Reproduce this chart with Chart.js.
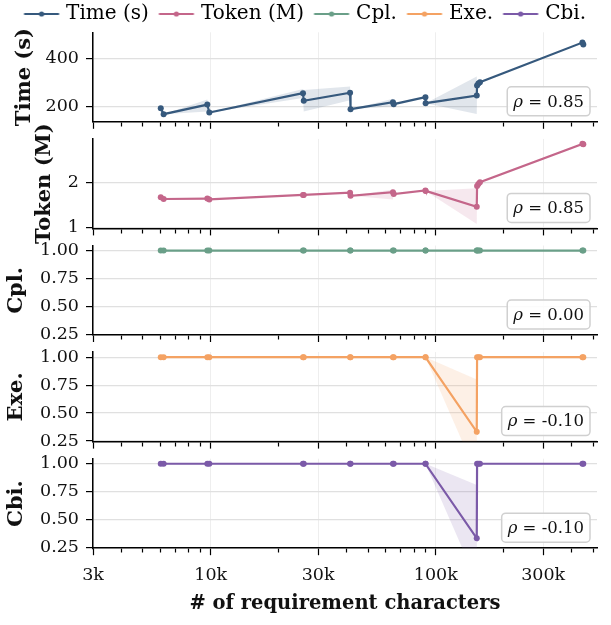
<!DOCTYPE html>
<html>
<head>
<meta charset="utf-8">
<script src="https://cdn.jsdelivr.net/npm/chart.js@4.4.1/dist/chart.umd.min.js"></script>
<style>
  html, body { margin: 0; padding: 0; background: #fff; }
  #figure { position: relative; width: 611px; height: 625px; overflow: hidden; }
  #figure canvas { position: absolute; left: 0; }
</style>
</head>
<body>
<div id="figure"></div>
<script>
// ---- data ----
const chars = [6000, 6180, 9660, 9860, 25700, 25900, 41600, 41800, 64500, 65000,
               89900, 90100, 152000, 152500, 154500, 157000, 448000, 452000];

const timeVals = [192, 167, 207, 174, 255, 223, 257, 188, 217, 209, 238, 213, 245, 287, 295, 301, 467, 459];
const timeLo   = [192, 167, 178, 174, 235, 178, 225, 188, 200, 209, 238, 213, 168, 287, 295, 301, 467, 459];
const timeHi   = [192, 167, 228, 174, 272, 268, 283, 188, 232, 209, 238, 213, 325, 287, 295, 301, 467, 459];

const tokenVals = [1.67, 1.63, 1.64, 1.62, 1.72, 1.72, 1.77, 1.70, 1.78, 1.74, 1.82, 1.81, 1.46, 1.92, 1.96, 2.00, 2.85, 2.84];
const tokenLo   = [1.67, 1.63, 1.64, 1.62, 1.72, 1.72, 1.77, 1.70, 1.62, 1.74, 1.82, 1.81, 1.08, 1.92, 1.96, 2.00, 2.85, 2.84];
const tokenHi   = [1.67, 1.63, 1.64, 1.62, 1.72, 1.72, 1.77, 1.70, 1.84, 1.74, 1.82, 1.81, 1.87, 1.92, 1.96, 2.00, 2.85, 2.84];

const cplVals = [1, 1, 1, 1, 1, 1, 1, 1, 1, 1, 1, 1, 1, 1, 1, 1, 1, 1];

const exeVals = [1, 1, 1, 1, 1, 1, 1, 1, 1, 1, 1, 1, 0.333, 1, 1, 1, 1, 1];
const exeLo   = [1, 1, 1, 1, 1, 1, 1, 1, 1, 1, 1, 1, -0.05, 1, 1, 1, 1, 1];
const exeHi   = [1, 1, 1, 1, 1, 1, 1, 1, 1, 1, 1, 1, 0.80, 1, 1, 1, 1, 1];

const cbiVals = [1, 1, 1, 1, 1, 1, 1, 1, 1, 1, 1, 1, 0.333, 1, 1, 1, 1, 1];
const cbiLo   = [1, 1, 1, 1, 1, 1, 1, 1, 1, 1, 1, 1, -0.05, 1, 1, 1, 1, 1];
const cbiHi   = [1, 1, 1, 1, 1, 1, 1, 1, 1, 1, 1, 1, 0.81, 1, 1, 1, 1, 1];

const rhoTexts = ['0.85', '0.85', '0.00', '-0.10', '-0.10'];

const timeTicks = [200, 400];
const tokenTicks = [1, 2];
const rateTicks = [0.25, 0.5, 0.75, 1.0];

const xTickValues = [3000, 4000, 5000, 6000, 7000, 8000, 9000,
                     10000, 20000, 30000, 40000, 50000, 60000, 70000, 80000, 90000,
                     100000, 200000, 300000, 400000, 500000];
const xLabelValues = [3000, 10000, 30000, 100000, 300000];
const xTickLabels = ['3k', '10k', '30k', '100k', '300k'];

// ---- layout ----
const FONT = '"DejaVu Serif", serif';
const AREA_LEFT = 93, AREA_RIGHT = 597;
const TOP0 = 32.3, PITCH = 106.6, PANEL_H = 89.5;
const TITLE_SIZE = 21, TICK_SIZE = 17.5, LEGEND_SIZE = 20;

const panels = [
  { label: 'Time (s)', color: '#36597d', band: 'rgba(54,89,125,0.15)', vals: timeVals, lo: timeLo, hi: timeHi,
    min: 135, max: 510, ticks: timeTicks, fmt: v => String(v), titleX: 25 },
  { label: 'Token (M)', color: '#c4668a', band: 'rgba(196,102,138,0.15)', vals: tokenVals, lo: tokenLo, hi: tokenHi,
    min: 0.98, max: 2.96, ticks: tokenTicks, fmt: v => String(v), titleX: 45 },
  { label: 'Cpl.', color: '#6a9f88', band: null, vals: cplVals,
    min: 0.245, max: 1.045, ticks: rateTicks, fmt: v => v.toFixed(2), titleX: 16.5 },
  { label: 'Exe.', color: '#f4a263', band: 'rgba(244,162,99,0.16)', vals: exeVals, lo: exeLo, hi: exeHi,
    min: 0.245, max: 1.045, ticks: rateTicks, fmt: v => v.toFixed(2), titleX: 16.5 },
  { label: 'Cbi.', color: '#7b5aa8', band: 'rgba(123,90,168,0.15)', vals: cbiVals, lo: cbiLo, hi: cbiHi,
    min: 0.245, max: 1.045, ticks: rateTicks, fmt: v => v.toFixed(2), titleX: 16.5 }
];

// legend spacing: keep all five entries on one row
const measure = document.createElement('canvas').getContext('2d');
measure.font = LEGEND_SIZE + 'px ' + FONT;
const legendTextSum = panels.reduce((s, q) => s + measure.measureText(q.label).width, 0);
const legendGap = Math.min(57, (572 - legendTextSum) / 5);
const LEGEND_BOX = legendGap - 5 - LEGEND_SIZE / 2;

// legend swatch: a 35px line with a dot, ending 7px before the text
function legendSwatch(color) {
  const relEnd = LEGEND_BOX / 2 + LEGEND_SIZE / 2 - 7;
  const relStart = relEnd - 35;
  const W = Math.ceil(2 * Math.max(Math.abs(relStart), Math.abs(relEnd)) + 4);
  const c = document.createElement('canvas');
  c.width = W; c.height = 10;
  const g = c.getContext('2d');
  const cx = W / 2;
  g.strokeStyle = color; g.lineWidth = 2;
  g.beginPath(); g.moveTo(cx + relStart, 5); g.lineTo(cx + relEnd, 5); g.stroke();
  g.fillStyle = color;
  g.beginPath(); g.arc(cx + (relStart + relEnd) / 2, 5, 2.6, 0, Math.PI * 2); g.fill();
  return c;
}

// rho annotation box in the lower right of each panel
const rhoBox = {
  id: 'rhoBox',
  afterDatasetsDraw(chart, args, opts) {
    if (!opts.text) return;
    const { ctx, chartArea } = chart;
    ctx.save();
    ctx.font = 'italic 16.5px ' + FONT;
    const wr = ctx.measureText('ρ').width;
    ctx.font = '16.5px ' + FONT;
    const rest = ' = ' + opts.text;
    const wt = ctx.measureText(rest).width;
    const w = wr + wt + 12, h = 29;
    const x = chartArea.right - 7 - w, y = chartArea.bottom - 6 - h;
    ctx.beginPath();
    ctx.roundRect(x, y, w, h, 4);
    ctx.fillStyle = 'rgba(255,255,255,0.85)';
    ctx.fill();
    ctx.lineWidth = 1.5;
    ctx.strokeStyle = '#d0d0d0';
    ctx.stroke();
    ctx.fillStyle = '#111';
    ctx.textBaseline = 'middle';
    ctx.font = 'italic 16.5px ' + FONT;
    ctx.fillText('ρ', x + 6, y + h / 2 + 1);
    ctx.font = '16.5px ' + FONT;
    ctx.fillText(rest, x + 6 + wr, y + h / 2 + 1);
    ctx.restore();
  }
};

const fig = document.getElementById('figure');
const isLabeled = v => xLabelValues.includes(v);

panels.forEach((p, i) => {
  const first = i === 0, last = i === panels.length - 1;
  const top = TOP0 + i * PITCH;
  const bottom = top + PANEL_H;
  const canvasTop = first ? 0 : Math.round(top - 22);
  const xH = last ? 65.8 : 8;
  const canvasH = last ? 625 - canvasTop : Math.ceil(bottom + xH + 14 - canvasTop);
  const padTop = first ? -1 : top - canvasTop;
  const padBottom = canvasH - (bottom - canvasTop) - xH;
  // the first chart keeps a narrow left padding so the legend row has room
  const padLeft = first ? 8 : p.titleX - TITLE_SIZE / 2;
  const titlePad = p.titleX - TITLE_SIZE / 2 - padLeft;

  const canvas = document.createElement('canvas');
  canvas.width = 611; canvas.height = canvasH;
  canvas.style.top = canvasTop + 'px';
  fig.appendChild(canvas);

  const datasets = [{
    data: chars.map((x, k) => ({ x, y: p.vals[k] })),
    borderColor: p.color, borderWidth: 2.2,
    pointRadius: 3, pointBackgroundColor: p.color, pointBorderWidth: 0,
    fill: false, tension: 0
  }];
  if (p.band) {
    datasets.push({
      data: chars.map((x, k) => ({ x, y: p.hi[k] })),
      borderColor: 'transparent', pointRadius: 0, fill: false
    });
    datasets.push({
      data: chars.map((x, k) => ({ x, y: p.lo[k] })),
      borderColor: 'transparent', pointRadius: 0, fill: '-1', backgroundColor: p.band
    });
  }

  new Chart(canvas, {
    type: 'line',
    data: { datasets },
    options: {
      responsive: false,
      animation: false,
      events: [],
      layout: { padding: { left: padLeft, right: 611 - AREA_RIGHT, top: padTop, bottom: padBottom } },
      scales: {
        x: {
          type: 'logarithmic', min: 3000, max: 520000,
          afterBuildTicks: s => { s.ticks = xTickValues.map(v => ({ value: v })); },
          afterFit: s => { s.height = xH; },
          border: { color: '#000', width: 1.5 },
          grid: {
            color: c => (c.tick && isLabeled(c.tick.value)) ? '#eeeeee' : 'rgba(0,0,0,0)',
            lineWidth: 1,
            tickLength: 7, tickColor: '#000', tickWidth: 1.2,
            tickBorderDash: c => (c.tick && isLabeled(c.tick.value)) ? [] : [4, 20]
          },
          ticks: {
            display: last, autoSkip: false, maxRotation: 0, padding: 10,
            font: { family: FONT, size: TICK_SIZE }, color: '#111',
            callback: v => { const k = xLabelValues.indexOf(v); return k >= 0 ? xTickLabels[k] : ''; }
          },
          title: {
            display: last, text: '# of requirement characters', color: '#111', padding: 0,
            font: { family: FONT, size: 19.5, weight: 'bold', lineHeight: 1 }
          }
        },
        y: {
          min: p.min, max: p.max,
          afterBuildTicks: s => { s.ticks = p.ticks.map(v => ({ value: v })); },
          afterFit: s => { s.width = AREA_LEFT - padLeft; },
          border: { color: '#000', width: 1.5 },
          grid: { color: '#e0e0e0', lineWidth: 1.2, tickLength: 7, tickColor: '#000', tickWidth: 1.2 },
          ticks: { font: { family: FONT, size: TICK_SIZE }, color: '#111', padding: 7, callback: v => p.fmt(v) },
          title: {
            display: true, text: p.label, color: '#111', padding: { top: titlePad, bottom: 0 },
            font: { family: FONT, size: TITLE_SIZE, weight: 'bold', lineHeight: 1 }
          }
        }
      },
      plugins: {
        tooltip: { enabled: false },
        rhoBox: { text: rhoTexts[i] },
        legend: {
          display: first,
          position: 'top',
          maxHeight: 33.3,
          onClick: null,
          labels: {
            usePointStyle: true, pointStyleWidth: LEGEND_BOX, padding: 5,
            font: { family: FONT, size: LEGEND_SIZE }, color: '#111',
            generateLabels: () => panels.map(q => ({
              text: q.label, pointStyle: legendSwatch(q.color),
              fillStyle: q.color, strokeStyle: q.color, lineWidth: 0, hidden: false
            }))
          }
        }
      }
    },
    plugins: [rhoBox]
  });
});
</script>
</body>
</html>
